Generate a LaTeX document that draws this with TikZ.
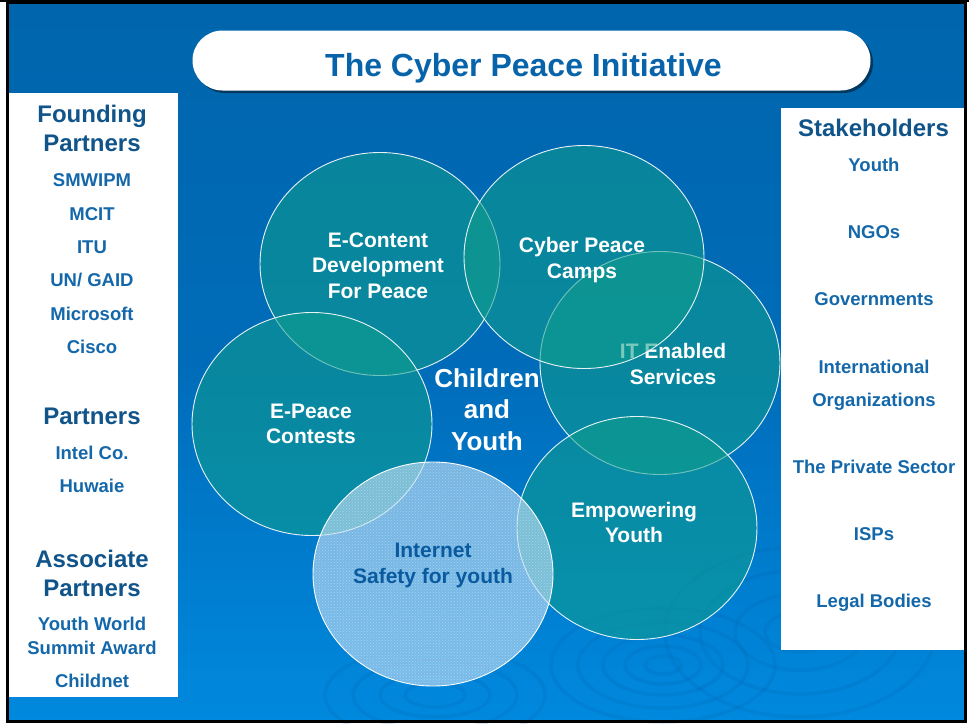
\documentclass[tikz,border=0pt]{standalone}
\usepackage{fontspec}
\setmainfont{Liberation Sans}
\usetikzlibrary{shapes.geometric,shadows,patterns}
\definecolor{bgtop}{RGB}{0,101,172}
\definecolor{bgmid}{RGB}{0,108,185}
\definecolor{bgbot}{RGB}{0,137,222}
\definecolor{cteal}{RGB}{16,158,138}
\definecolor{headc}{RGB}{16,84,138}
\definecolor{itemc}{RGB}{20,104,170}
\definecolor{titlec}{RGB}{8,100,170}
\definecolor{safec}{RGB}{195,222,245}
\definecolor{safetext}{RGB}{10,90,160}
\definecolor{ripc}{RGB}{0,95,170}
\begin{document}
\begin{tikzpicture}[x=1pt,y=-1pt,
  head/.style={font=\fontsize{24}{28}\selectfont\bfseries, text=headc, anchor=base, inner sep=0pt},
  item/.style={font=\fontsize{18.5}{22}\selectfont\bfseries, text=itemc, anchor=base, inner sep=0pt},
  circ/.style={ellipse, minimum width=240pt, minimum height=223pt, inner sep=0pt,
     fill=cteal, fill opacity=0.55, draw=white, draw opacity=0.9, line width=0.9pt},
  ctext/.style={font=\fontsize{21}{25.5}\selectfont\bfseries, text=white, align=center, inner sep=0pt},
  ripple/.style={draw=ripc, draw opacity=0.16, line width=3.5pt},
  panel/.style={fill=white, draw=none}]
\useasboundingbox (0,0) rectangle (969,723);
\fill[white] (0,0) rectangle (969,723);
% background
\shade[top color=bgtop, bottom color=bgbot, middle color=bgmid] (7,3) rectangle (966,722);
% ripples
\foreach \rx/\ry in {18/9,38/19,60/30,85/43,112/57}{
  \draw[ripple] (663,665) ellipse ({\rx pt} and {\ry pt});}
\foreach \rx/\ry in {35/20,65/38,100/62,135/85}{
  \draw[ripple] (800,632) ellipse ({\rx pt} and {\ry pt});}
\foreach \rx/\ry in {30/12,55/22,82/35,110/48}{
  \draw[ripple] (435,695) ellipse ({\rx pt} and {\ry pt});}
% title
\node[draw=none, fill=white, rounded corners=30pt, minimum width=678pt, minimum height=60pt,
  drop shadow={shadow xshift=2.5pt, shadow yshift=-2.5pt, fill=black, opacity=0.45}]
  (titlebox) at (531.5,60.5) {};
\node[font=\fontsize{32}{37}\selectfont\bfseries, text=titlec, anchor=base, inner sep=0pt]
  (title) at (523.5,76.5) {The Cyber Peace Initiative};
% panels
\fill[panel] (9,93) rectangle (178,697);
\fill[panel] (781,108) rectangle (965,650);
% left panel
\node[head] (fp1) at (92,122.5) {Founding};
\node[head] (fp2) at (92,151) {Partners};
\node[item] (l1) at (92,186.7) {SMWIPM};
\node[item] (l2) at (92,220) {MCIT};
\node[item] (l3) at (92,253.3) {ITU};
\node[item] (l4) at (92,286.6) {UN/ GAID};
\node[item] (l5) at (92,320) {Microsoft};
\node[item] (l6) at (92,353.3) {Cisco};
\node[head] (pp) at (92,424) {Partners};
\node[item] (l7) at (92,459) {Intel Co.};
\node[item] (l8) at (92,492) {Huwaie};
\node[head] (ap1) at (92,567) {Associate};
\node[head] (ap2) at (92,596) {Partners};
\node[item] (l9) at (92,630.7) {Youth World};
\node[item] (l10) at (92,654) {Summit Award};
\node[item] (l11) at (92,687) {Childnet};
% right panel
\node[head] (sh) at (873.5,136.7) {Stakeholders};
\node[item] (r1) at (874,171.7) {Youth};
\node[item] (r2) at (874,238.3) {NGOs};
\node[item] (r3) at (874,305) {Governments};
\node[item] (r4) at (874,373.3) {International};
\node[item] (r5) at (874,406) {Organizations};
\node[item] (r6) at (874,473.3) {The Private Sector};
\node[item] (r7) at (874,540) {ISPs};
\node[item] (r8) at (874,607.3) {Legal Bodies};
% circles
\node[circ] (ec) at (380,264) {};
\node[circ] (ep) at (312,424) {};
\node[circ] (it) at (660,363) {};
\node[ctext] (itt) at (673,364) {IT Enabled\\Services};
\node[circ] (cp) at (584,257) {};
\node[circ] (emp) at (637,528) {};
\node[ellipse, minimum width=240pt, minimum height=224pt, inner sep=0pt,
  fill=safec, fill opacity=0.62, draw=white, line width=0.9pt] (is) at (433,574) {};
\fill[pattern=crosshatch dots, pattern color=white, opacity=0.35] (433,574) ellipse (119pt and 111pt);
% circle texts
\node[ctext] (ect) at (378,265.5) {E-Content\\Development\\For Peace};
\node[ctext] (cpt) at (582,260) {Cyber Peace\\Camps};
\node[ctext] (ept) at (311,424) {E-Peace\\Contests};
\node[ctext] (empt) at (634,522.5) {Empowering\\Youth};
\node[ctext, text=safetext, font=\fontsize{21}{26}\selectfont\bfseries] (ist) at (433,565) {Internet\\Safety for youth};
\node[ctext, font=\fontsize{26}{31.5}\selectfont\bfseries] (cy) at (487,409.5) {Children\\and\\Youth};
% frame
\draw[black, line width=3pt] (7.5,2.5) rectangle (965.5,721.5);
\fill[black] (0,0) rectangle (969,2);
\end{tikzpicture}
\end{document}
